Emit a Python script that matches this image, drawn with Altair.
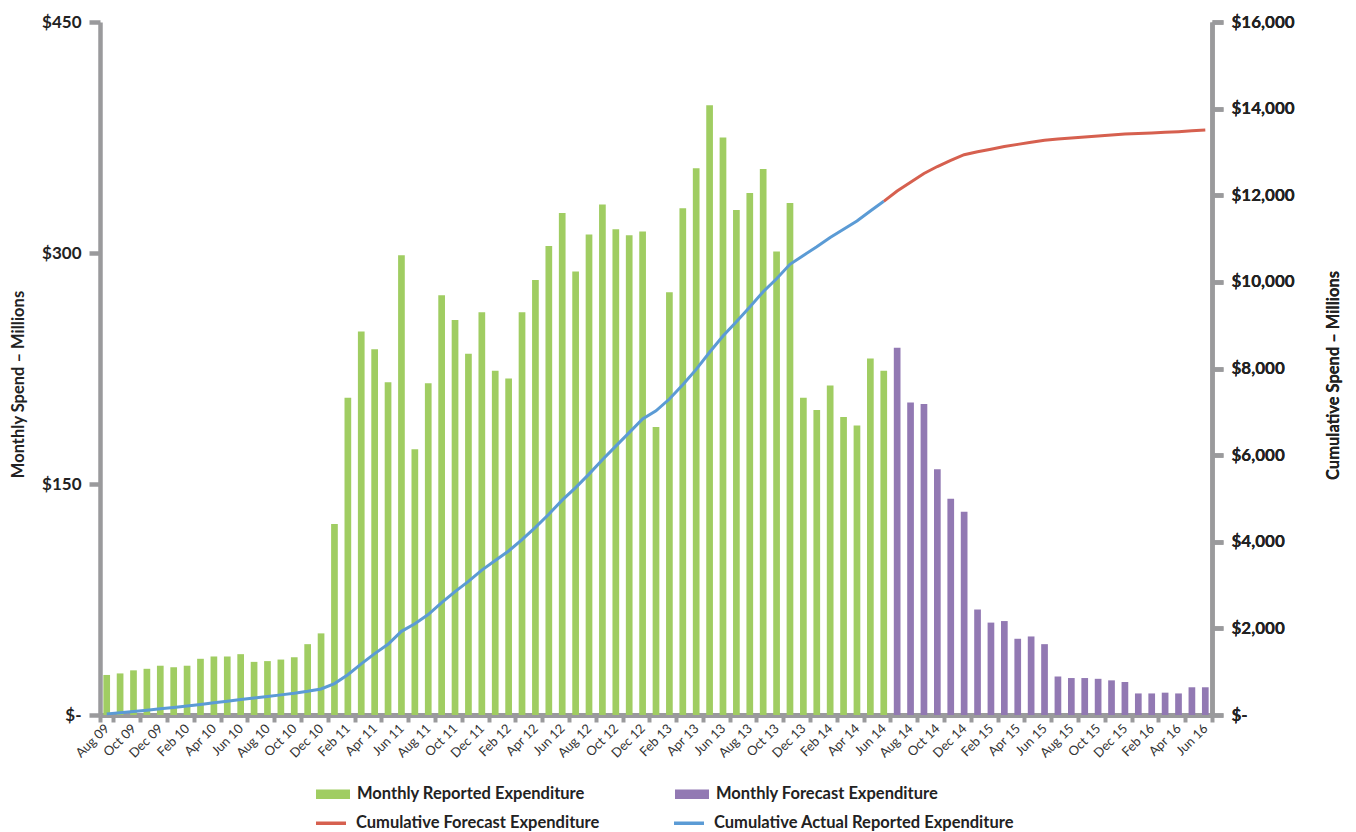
import altair as alt
import pandas as pd

months = [
    "Aug 09", "Sep 09", "Oct 09", "Nov 09", "Dec 09",
    "Jan 10", "Feb 10", "Mar 10", "Apr 10", "May 10", "Jun 10", "Jul 10", "Aug 10", "Sep 10", "Oct 10", "Nov 10", "Dec 10",
    "Jan 11", "Feb 11", "Mar 11", "Apr 11", "May 11", "Jun 11", "Jul 11", "Aug 11", "Sep 11", "Oct 11", "Nov 11", "Dec 11",
    "Jan 12", "Feb 12", "Mar 12", "Apr 12", "May 12", "Jun 12", "Jul 12", "Aug 12", "Sep 12", "Oct 12", "Nov 12", "Dec 12",
    "Jan 13", "Feb 13", "Mar 13", "Apr 13", "May 13", "Jun 13", "Jul 13", "Aug 13", "Sep 13", "Oct 13", "Nov 13", "Dec 13",
    "Jan 14", "Feb 14", "Mar 14", "Apr 14", "May 14", "Jun 14", "Jul 14", "Aug 14", "Sep 14", "Oct 14", "Nov 14", "Dec 14",
    "Jan 15", "Feb 15", "Mar 15", "Apr 15", "May 15", "Jun 15", "Jul 15", "Aug 15", "Sep 15", "Oct 15", "Nov 15", "Dec 15",
    "Jan 16", "Feb 16", "Mar 16", "Apr 16", "May 16", "Jun 16",
]

# Monthly reported expenditure, Aug 09 - Jun 14 ($M)
reported = [
    26, 27, 29, 30, 32,
    31, 32, 36.5, 38, 38, 39.5, 34.5, 35, 36, 37.5, 46, 53,
    124, 206, 249, 237.5, 216, 298.5, 172.5, 215.5, 272.5, 256.5, 234.5, 261.5,
    223.5, 218.5, 261.5, 282.5, 304.5, 326, 288, 312, 331.5, 315.5, 311.5, 314,
    187, 274.5, 329, 355, 396, 375, 328, 339, 354.5, 301, 332.5, 206,
    198, 214, 193.5, 188, 231.5, 223.5,
]
# Monthly forecast expenditure, Jul 14 - Jun 16 ($M)
forecast = [
    238.5, 203, 202, 159.5, 140.5, 132,
    68.5, 60, 61, 49.5, 51, 46, 25, 24, 24, 23.5, 22.5, 21.5,
    14, 14, 14.5, 14, 18, 18,
]

series_names = ["Monthly Reported Expenditure", "Monthly Forecast Expenditure"]
line_names = ["Cumulative Forecast Expenditure", "Cumulative Actual Reported Expenditure"]

GREEN = "#a0cd62"
PURPLE = "#9279b3"
RED = "#d6604f"
BLUE = "#5b9bd5"
GREY = "#9a9a9c"
FONT = "Lato"

n_rep = len(reported)
df = pd.DataFrame({
    "month": months,
    "idx": list(range(len(months))),
    "value": reported + forecast,
    "series": [series_names[0]] * n_rep + [series_names[1]] * len(forecast),
})

x_enc = alt.X(
    "month:N",
    sort=months,
    scale=alt.Scale(domain=months, paddingInner=0, paddingOuter=0),
    axis=alt.Axis(
        title=None,
        values=months[::2],
        tickBand="extent",
        labelAngle=315,
        labelAlign="right",
        labelBaseline="middle",
        labelFont=FONT,
        labelFontSize=13,
        labelColor="#333333",
        labelPadding=4,
        domainColor=GREY,
        domainWidth=5,
        tickColor=GREY,
        tickWidth=4,
        tickSize=7,
        grid=False,
    ),
)

bars = alt.Chart(df).mark_bar(width=alt.RelativeBandSize(0.5)).encode(
    x=x_enc,
    y=alt.Y(
        "value:Q",
        scale=alt.Scale(domain=[0, 450], nice=False),
        axis=alt.Axis(
            title="Monthly Spend – Millions",
            values=[0, 150, 300, 450],
            labelExpr="datum.value == 0 ? '$-' : '$' + format(datum.value, ',')",
            labelFont=FONT,
            labelFontSize=17,
            labelFontWeight="bold",
            labelColor="#222222",
            labelPadding=8,
            domainColor=GREY,
            domainWidth=4.5,
            tickColor=GREY,
            tickWidth=4.5,
            tickSize=11,
            grid=True,
            gridColor="white",
            gridWidth=3.5,
            titleFont=FONT,
            titleFontSize=16.5,
            titleFontWeight="bold",
            titleColor="#222222",
            titleAngle=270,
            titleX=-82,
            titleY=362,
            titleAlign="center",
            titleBaseline="middle",
        ),
    ),
    fill=alt.Fill(
        "series:N",
        scale=alt.Scale(domain=series_names, range=[GREEN, PURPLE]),
        legend=alt.Legend(
            title=None,
            orient="none",
            legendX=216,
            legendY=755,
            direction="horizontal",
            columns=2,
            columnPadding=90,
            symbolType="M-1,-0.28H1V0.28H-1Z",
            symbolSize=1156,
            symbolStrokeWidth=0,
            labelFont=FONT,
            labelFontSize=16.5,
            labelFontWeight="bold",
            labelColor="#222222",
            labelOffset=7,
            labelLimit=400,
        ),
    ),
)

base_line = alt.Chart(df).transform_window(
    cum="sum(value)", sort=[alt.SortField("idx")], frame=[None, 0]
)

y_right = alt.Y(
    "cum:Q",
    scale=alt.Scale(domain=[0, 16000], nice=False),
    axis=alt.Axis(
        orient="right",
        title="Cumulative Spend – Millions",
        values=list(range(0, 16001, 2000)),
        labelExpr="datum.value == 0 ? '$-' : '$' + format(datum.value, ',')",
        labelFont=FONT,
        labelFontSize=17,
        labelFontWeight="bold",
        labelColor="#222222",
        labelPadding=8,
        domainColor=GREY,
        domainWidth=4.5,
        tickColor=GREY,
        tickWidth=4.5,
        tickSize=11,
        grid=False,
        titleFont=FONT,
        titleFontSize=16.5,
        titleFontWeight="bold",
        titleColor="#222222",
        titleAngle=270,
        titleX=121,
        titleY=353,
        titleAlign="center",
        titleBaseline="middle",
    ),
)

stroke_enc = alt.Stroke(
    "seg:N",
    scale=alt.Scale(domain=line_names, range=[RED, BLUE]),
    legend=alt.Legend(
        title=None,
        orient="none",
        legendX=214,
        legendY=784,
        direction="horizontal",
        columns=2,
        columnPadding=67,
        symbolType="stroke",
        symbolSize=900,
        symbolStrokeWidth=3.5,
        labelFont=FONT,
        labelFontSize=16.5,
        labelFontWeight="bold",
        labelColor="#222222",
        labelOffset=8,
        labelLimit=400,
    ),
)

actual_line = base_line.transform_filter(alt.datum.idx <= n_rep - 1).transform_calculate(
    seg="'" + line_names[1] + "'"
).mark_line(strokeWidth=3).encode(x=x_enc, y=y_right, stroke=stroke_enc)

forecast_line = base_line.transform_filter(alt.datum.idx >= n_rep - 1).transform_calculate(
    seg="'" + line_names[0] + "'"
).mark_line(strokeWidth=3).encode(x=x_enc, y=y_right, stroke=stroke_enc)

chart = (
    alt.layer(bars, forecast_line, actual_line)
    .resolve_scale(y="independent")
    .properties(
        width=1112,
        height=693,
        autosize=alt.AutoSizeParams(type="none"),
        padding={"left": 92, "top": 14, "right": 136, "bottom": 117},
    )
    .configure_view(fill="#e6e7e9", stroke=None)
    .configure(background="white")
)

chart.save("out.html", embed_options={"renderer": "svg", "actions": False})
